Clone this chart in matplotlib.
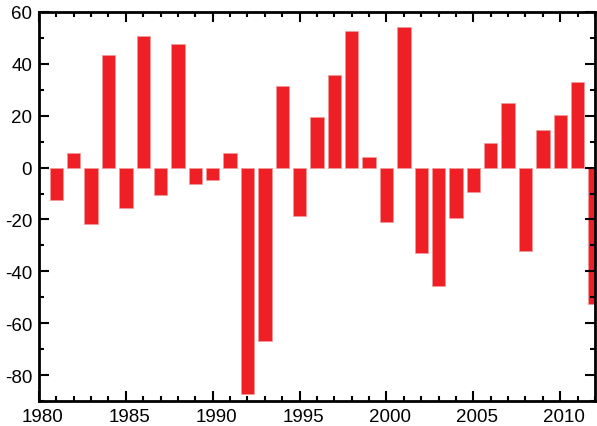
import numpy as np
import matplotlib
matplotlib.use("Agg")
import matplotlib.pyplot as plt
from matplotlib.ticker import MultipleLocator
from matplotlib.transforms import ScaledTranslation

# yearly anomaly values, 1981-2012
years = list(range(1981, 2013))
values = [-12.6, 5.7, -21.9, 43.3, -15.7, 50.9, -10.6, 47.7, -6.2, -4.9,
          5.6, -87.3, -66.9, 31.5, -18.5, 19.6, 35.7, 52.6, 4.1, -21.0,
          54.2, -32.9, -45.6, -19.6, -9.4, 9.5, 24.8, -32.2, 14.4, 20.1,
          33.0, -52.6]

plt.rcParams['font.family'] = ['Liberation Sans', 'DejaVu Sans']
plt.rcParams['axes.unicode_minus'] = False

fig = plt.figure(figsize=(5.97, 4.27), dpi=100)
ax = fig.add_axes([0.0653, 0.0585, 0.9313, 0.9111])

ax.bar(years, values, width=0.77, color='#ee1f25',
       edgecolor='#f39a9c', linewidth=0.5)

ax.set_xlim(1980, 2012)
ax.set_ylim(-90, 60)

ax.xaxis.set_major_locator(MultipleLocator(5))
ax.xaxis.set_minor_locator(MultipleLocator(1))
ax.yaxis.set_major_locator(MultipleLocator(20))
ax.yaxis.set_minor_locator(MultipleLocator(10))

ax.tick_params(which='both', direction='in', top=True, right=True,
               labelsize=13.5, width=1.5, color='black')
ax.tick_params(which='major', length=7.5, pad=5)
ax.tick_params(which='minor', length=3.8)

for s in ax.spines.values():
    s.set_linewidth(2.0)

# shift year labels a touch to the right
shift = ScaledTranslation(4 / 100, 0, fig.dpi_scale_trans)
for lab in ax.get_xticklabels():
    lab.set_transform(lab.get_transform() + shift)

fig.savefig('out.png', dpi=100)
